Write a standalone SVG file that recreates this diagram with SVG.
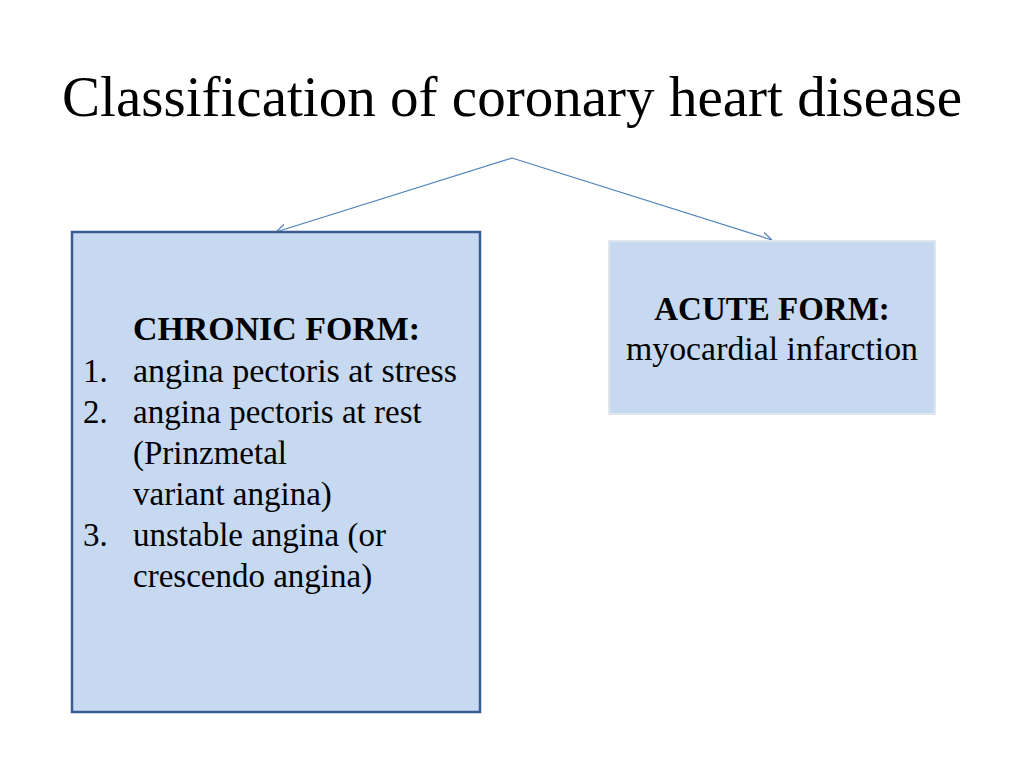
<svg xmlns="http://www.w3.org/2000/svg" width="1024" height="768" viewBox="0 0 1024 768">
<style>
.t{font-family:"Liberation Serif",serif;fill:#000}
.c{fill:none;stroke:#4f81bd;stroke-width:1.2}
</style>
<defs><marker id="a" viewBox="0 0 10 10" refX="10" refY="5" markerWidth="10" markerHeight="10" markerUnits="userSpaceOnUse" orient="auto"><path d="M0,0 L10,5 L0,10" fill="none" stroke="#4f81bd" stroke-width="1.2"/></marker></defs>
<rect width="1024" height="768" fill="#fff"/>
<text class="t" x="512" y="116" font-size="56" text-anchor="middle" textLength="900" lengthAdjust="spacingAndGlyphs">Classification of coronary heart disease</text>
<g id="connectors">
<path class="c" d="M512,158 L276,232" marker-end="url(#a)"/>
<path class="c" d="M512,158 L772,240" marker-end="url(#a)"/>
</g>
<g id="chronic">
<rect x="72" y="232" width="408" height="480" fill="#c6d9f1" stroke="#3b5b93" stroke-width="2.5"/>
<g class="t" font-size="33">
<text x="133" y="340" font-weight="bold" textLength="287" lengthAdjust="spacingAndGlyphs">CHRONIC FORM:</text>
<text x="83" y="382">1.</text><text x="133" y="382" textLength="324" lengthAdjust="spacingAndGlyphs">angina pectoris at stress</text>
<text x="83" y="423">2.</text><text x="133" y="423">angina pectoris at rest</text>
<text x="133" y="464">(Prinzmetal</text>
<text x="133" y="505">variant angina)</text>
<text x="83" y="546">3.</text><text x="133" y="546">unstable angina (or</text>
<text x="133" y="587">crescendo angina)</text>
</g>
</g>
<g id="acute">
<rect x="609" y="241" width="326" height="173" fill="#c6d9f1" stroke="#e0e6ee" stroke-width="2"/>
<text class="t" x="772" y="320" font-size="33" font-weight="bold" text-anchor="middle">ACUTE FORM:</text>
<text class="t" x="772" y="360" font-size="33" text-anchor="middle" textLength="292" lengthAdjust="spacingAndGlyphs">myocardial infarction</text>
</g>
</svg>
